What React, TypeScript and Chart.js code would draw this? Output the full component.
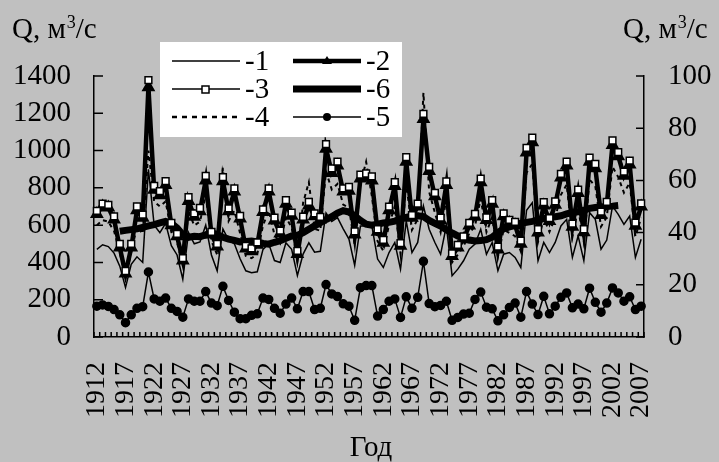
import React, { useEffect, useRef } from "react";
import { Chart, registerables } from "chart.js";
Chart.register(...registerables);

const FONT = '"Liberation Serif", "Times New Roman", serif';

const years: string[] = [
  "1912","1913","1914","1915","1916","1917","1918","1919","1920","1921",
  "1922","1923","1924","1925","1926","1927","1928","1929","1930","1931",
  "1932","1933","1934","1935","1936","1937","1938","1939","1940","1941",
  "1942","1943","1944","1945","1946","1947","1948","1949","1950","1951",
  "1952","1953","1954","1955","1956","1957","1958","1959","1960","1961",
  "1962","1963","1964","1965","1966","1967","1968","1969","1970","1971",
  "1972","1973","1974","1975","1976","1977","1978","1979","1980","1981",
  "1982","1983","1984","1985","1986","1987","1988","1989","1990","1991",
  "1992","1993","1994","1995","1996","1997","1998","1999","2000","2001",
  "2002","2003","2004","2005","2006","2007",
];

const xTickLabels: string[] = [
  "1912","1917","1922","1927","1932","1937","1942","1947","1952","1957",
  "1962","1967","1972","1977","1982","1987","1992","1997","2002","2007",
];
const leftTicks: number[] = [0, 200, 400, 600, 800, 1000, 1200, 1400];
const rightTicks: number[] = [0, 20, 40, 60, 80, 100];

// -1 thin line
const series1: number[] = [
  470, 495, 485, 450, 380, 265, 390, 430, 400, 900,
  600, 560, 610, 490, 440, 310, 560, 500, 510, 600,
  440, 355, 580, 520, 500, 420, 355, 345, 350, 470,
  500, 410, 400, 505, 470, 330, 445, 505, 455, 460,
  665, 620, 640, 580, 525, 385, 595, 595, 596, 418,
  373, 453, 507, 364, 622, 453, 507, 702, 578, 507,
  444, 596, 329, 364, 409, 471, 498, 578, 444, 507,
  356, 444, 453, 427, 373, 680, 720, 409, 507, 453,
  507, 596, 631, 427, 542, 409, 667, 631, 471, 520,
  702, 658, 604, 649, 427, 524,
];

// -2 thick line with triangles
const series2: number[] = [
  660, 700, 695, 630, 480, 340, 480, 680, 640, 1340,
  790, 760, 815, 600, 540, 410, 730, 645, 675, 840,
  550, 485, 835, 675, 780, 635, 475, 460, 495, 670,
  780, 625, 555, 715, 650, 445, 630, 705, 648, 630,
  1010, 880, 920, 780, 785, 550, 850, 855, 840, 565,
  505, 680, 810, 490, 940, 640, 700, 1170, 890, 755,
  625, 815, 435, 480, 525, 598, 645, 830, 628, 715,
  470, 648, 612, 600, 500, 990, 1045, 560, 705, 622,
  710, 855, 920, 592, 772, 562, 940, 905, 655, 708,
  1030, 970, 865, 925, 597, 700,
];

// -3 thin line with open squares
const series3: number[] = [
  677, 715, 709, 647, 500, 354, 500, 700, 656, 1378,
  811, 782, 836, 612, 553, 423, 750, 663, 692, 864,
  564, 500, 857, 690, 797, 649, 489, 475, 507, 685,
  797, 640, 571, 734, 667, 462, 645, 725, 663, 644,
  1035, 905, 941, 797, 805, 567, 871, 877, 862, 578,
  521, 699, 830, 503, 965, 654, 715, 1197, 912, 773,
  640, 834, 448, 494, 539, 612, 661, 850, 642, 734,
  485, 663, 628, 617, 517, 1015, 1069, 578, 724, 638,
  727, 875, 941, 608, 791, 578, 962, 928, 672, 725,
  1054, 992, 887, 946, 613, 717,
];

// -4 dotted line
const series4: number[] = [
  600, 627, 619, 568, 452, 318, 456, 592, 554, 1000,
  727, 700, 727, 563, 508, 378, 674, 598, 619, 758,
  514, 442, 907, 622, 678, 557, 435, 423, 444, 599,
  678, 548, 503, 642, 588, 409, 720, 830, 580, 570,
  887, 791, 821, 710, 693, 494, 820, 940, 756, 514,
  462, 601, 701, 447, 828, 574, 632, 1310, 778, 667,
  562, 739, 400, 442, 487, 556, 596, 741, 563, 643,
  433, 575, 558, 541, 459, 881, 929, 510, 637, 564,
  639, 763, 817, 536, 691, 510, 844, 809, 592, 643,
  913, 858, 774, 827, 539, 640,
];

// -5 line with filled circles (right axis)
const series5: number[] = [
  11.8, 12.3, 11.7, 10.5, 8.5, 5.5, 8.5, 11, 11.6, 24.9,
  14.6, 13.7, 14.9, 11, 9.8, 7.6, 14.6, 13.7, 13.7, 17.4,
  13, 12, 19.4, 14, 9.5, 7, 7, 8.3, 8.9, 14.9,
  14.4, 11, 9.1, 12.6, 14.9, 10.8, 17.4, 17.4, 10.5, 11,
  20.1, 16.5, 15.5, 12.7, 11.8, 6.4, 18.9, 19.7, 19.7, 8,
  10.5, 13.7, 14.6, 7.5, 15.4, 11, 15.2, 29, 12.8, 11.6,
  12.1, 13.7, 6.4, 7.5, 8.8, 9.1, 14.4, 17.2, 11.4, 10.8,
  6.2, 8.5, 11.3, 13, 7.6, 17.4, 12.6, 8.6, 15.6, 8.9,
  11.8, 15.2, 16.9, 11.2, 12.6, 10.8, 18.7, 13.3, 9.5, 13,
  18.8, 16.9, 13.7, 15.4, 10.5, 11.8,
];

// -6 moving average (thick)
const series6: (number | null)[] = [
  null, null, null, null, 567, 572, 576, 580, 588, 596,
  603, 612, 620, 610, 585, 548, 535, 540, 538, 548,
  560, 550, 535, 525, 518, 510, 512, 515, 510, 502,
  498, 508, 516, 530, 542, 545, 560, 578, 596, 613,
  630, 645, 665, 678, 670, 650, 625, 605, 600, 605,
  612, 615, 622, 632, 642, 649, 650, 646, 625, 610,
  595, 575, 558, 542, 530, 520, 515, 517, 522, 535,
  560, 580, 590, 600, 610, 615, 620, 628, 635, 640,
  645, 650, 660, 668, 672, 680, 690, 695, 698, 700,
  702, 705, null, null, null, null,
];

function drawQTitle(ctx: CanvasRenderingContext2D, x: number, y: number) {
  ctx.fillStyle = "#000";
  ctx.textBaseline = "alphabetic";
  ctx.textAlign = "left";
  ctx.font = `29px ${FONT}`;
  const a = "Q, м";
  ctx.fillText(a, x, y);
  let cx = x + ctx.measureText(a).width;
  ctx.font = `18px ${FONT}`;
  ctx.fillText("3", cx + 1, y - 10);
  cx += ctx.measureText("3").width + 1;
  ctx.font = `29px ${FONT}`;
  ctx.fillText("/с", cx, y);
}

export default function App() {
  const ref = useRef<HTMLCanvasElement>(null);
  useEffect(() => {
    document.body.style.margin = "0";
    document.body.style.background = "#c0c0c0";
    const canvas = ref.current!;

    const overlay = {
      id: "overlay",
      afterDraw(chart: any) {
        const ctx: CanvasRenderingContext2D = chart.ctx;
        const { left, right, bottom } = chart.chartArea;
        const yL = chart.scales.y;
        const yR = chart.scales.y2;
        const xs = chart.scales.x;
        ctx.save();
        ctx.strokeStyle = "#000";
        ctx.lineWidth = 1.5;
        ctx.setLineDash([]);
        ctx.beginPath();
        leftTicks.forEach((v) => {
          const py = yL.getPixelForValue(v);
          ctx.moveTo(left, py);
          ctx.lineTo(left + 9, py);
        });
        rightTicks.forEach((v) => {
          const py = yR.getPixelForValue(v);
          ctx.moveTo(right - 8, py);
          ctx.lineTo(right, py);
        });
        for (let k = 0; k <= years.length; k++) {
          const px = xs.getPixelForValue(k - 0.5);
          ctx.moveTo(px, bottom);
          ctx.lineTo(px, bottom - 5);
        }
        ctx.stroke();

        // titles
        drawQTitle(ctx, 12, 38);
        drawQTitle(ctx, 623, 38);
        ctx.font = `29px ${FONT}`;
        ctx.textAlign = "center";
        ctx.textBaseline = "alphabetic";
        ctx.fillText("Год", 371, 456);

        // legend
        ctx.fillStyle = "#fff";
        ctx.fillRect(160, 42, 242, 95);
        const rows = [61, 89, 117];
        const c1 = [172, 240];
        const c2 = [293, 361];
        const line = (x0: number, x1: number, y: number, w: number, dash: number[] = []) => {
          ctx.beginPath();
          ctx.setLineDash(dash);
          ctx.lineWidth = w;
          ctx.moveTo(x0, y);
          ctx.lineTo(x1, y);
          ctx.stroke();
          ctx.setLineDash([]);
        };
        ctx.strokeStyle = "#000";
        ctx.fillStyle = "#000";
        // -1
        line(c1[0], c1[1], rows[0], 1.5);
        // -3
        line(c1[0], c1[1], rows[1], 1.5);
        ctx.fillStyle = "#fff";
        ctx.lineWidth = 1.5;
        ctx.fillRect(202, rows[1] - 3, 7, 7);
        ctx.strokeRect(202, rows[1] - 3, 7, 7);
        // -4
        line(c1[0], c1[1], rows[2], 2.5, [5, 5]);
        // -2
        line(c2[0], c2[1], rows[0], 4.5);
        ctx.fillStyle = "#000";
        ctx.beginPath();
        ctx.moveTo(327, rows[0] - 5);
        ctx.lineTo(332, rows[0] + 3);
        ctx.lineTo(322, rows[0] + 3);
        ctx.closePath();
        ctx.fill();
        // -6
        line(c2[0], c2[1], rows[1], 7);
        // -5
        line(c2[0], c2[1], rows[2], 1.5);
        ctx.beginPath();
        ctx.arc(327, rows[2], 4, 0, Math.PI * 2);
        ctx.fill();

        ctx.font = `29px ${FONT}`;
        ctx.textAlign = "left";
        ctx.textBaseline = "middle";
        ctx.fillStyle = "#000";
        ctx.fillText("-1", 245, rows[0] + 1);
        ctx.fillText("-3", 245, rows[1] + 1);
        ctx.fillText("-4", 245, rows[2] + 1);
        ctx.fillText("-2", 366, rows[0] + 1);
        ctx.fillText("-6", 366, rows[1] + 1);
        ctx.fillText("-5", 366, rows[2] + 1);
        ctx.restore();
      },
    };

    const chart = new Chart(canvas, {
      type: "line",
      data: {
        labels: years,
        datasets: [
          {
            label: "-3",
            data: series3,
            yAxisID: "y",
            borderColor: "#000",
            borderWidth: 1.5,
            pointStyle: "rect",
            pointRadius: 4.8,
            pointBackgroundColor: "#fff",
            pointBorderColor: "#000",
            pointBorderWidth: 1.5,
            order: 0,
          },
          {
            label: "-2",
            data: series2,
            yAxisID: "y",
            borderColor: "#000",
            borderWidth: 4.5,
            pointStyle: "triangle",
            pointRadius: 3.5,
            pointBackgroundColor: "#000",
            pointBorderColor: "#000",
            order: 1,
          },
          {
            label: "-6",
            data: series6,
            yAxisID: "y",
            borderColor: "#000",
            borderWidth: 7,
            pointRadius: 0,
            order: 2,
          },
          {
            label: "-5",
            data: series5,
            yAxisID: "y2",
            borderColor: "#000",
            borderWidth: 1.5,
            pointStyle: "circle",
            pointRadius: 4,
            pointBackgroundColor: "#000",
            pointBorderColor: "#000",
            order: 3,
          },
          {
            label: "-4",
            data: series4,
            yAxisID: "y",
            borderColor: "#000",
            borderWidth: 2,
            borderDash: [4, 4],
            pointRadius: 0,
            order: 4,
          },
          {
            label: "-1",
            data: series1,
            yAxisID: "y",
            borderColor: "#000",
            borderWidth: 1.5,
            pointRadius: 0,
            order: 5,
          },
        ],
      },
      options: {
        responsive: false,
        animation: false,
        layout: { padding: { top: 76, left: 0, right: 0, bottom: 0 } },
        elements: { line: { tension: 0 } },
        plugins: { legend: { display: false }, tooltip: { enabled: false } },
        scales: {
          x: {
            type: "category",
            offset: true,
            grid: { display: false, drawTicks: false },
            border: { display: true, color: "#000", width: 1.5 },
            ticks: {
              autoSkip: false,
              minRotation: 90,
              maxRotation: 90,
              padding: 25,
              color: "#000",
              font: { family: FONT, size: 28 },
              callback: (v: any, i: number) =>
                xTickLabels.includes(years[i]) ? years[i] : "",
            },
            afterFit: (s: any) => {
              s.height = 125;
            },
          },
          y: {
            position: "left",
            min: 0,
            max: 1400,
            afterBuildTicks: (s: any) => {
              s.ticks = leftTicks.map((v) => ({ value: v }));
            },
            grid: { display: false, drawTicks: false },
            border: { display: true, color: "#000", width: 1.5 },
            ticks: {
              autoSkip: false,
              stepSize: 200,
              padding: 23,
              color: "#000",
              font: { family: FONT, size: 29 },
              callback: (v: any) => String(v),
            },
            afterFit: (s: any) => {
              s.width = 94;
            },
          },
          y2: {
            position: "right",
            min: 0,
            max: 100,
            afterBuildTicks: (s: any) => {
              s.ticks = rightTicks.map((v) => ({ value: v }));
            },
            grid: { display: false, drawTicks: false },
            border: { display: true, color: "#000", width: 1.5 },
            ticks: {
              autoSkip: false,
              stepSize: 20,
              padding: 24,
              color: "#000",
              font: { family: FONT, size: 29 },
              callback: (v: any) => String(v),
            },
            afterFit: (s: any) => {
              s.width = 75;
            },
          },
        },
      },
      plugins: [overlay],
    } as any);
    return () => chart.destroy();
  }, []);

  return (
    <div style={{ width: 719, height: 462, background: "#c0c0c0" }}>
      <canvas ref={ref} width={719} height={462} style={{ display: "block" }} />
    </div>
  );
}
